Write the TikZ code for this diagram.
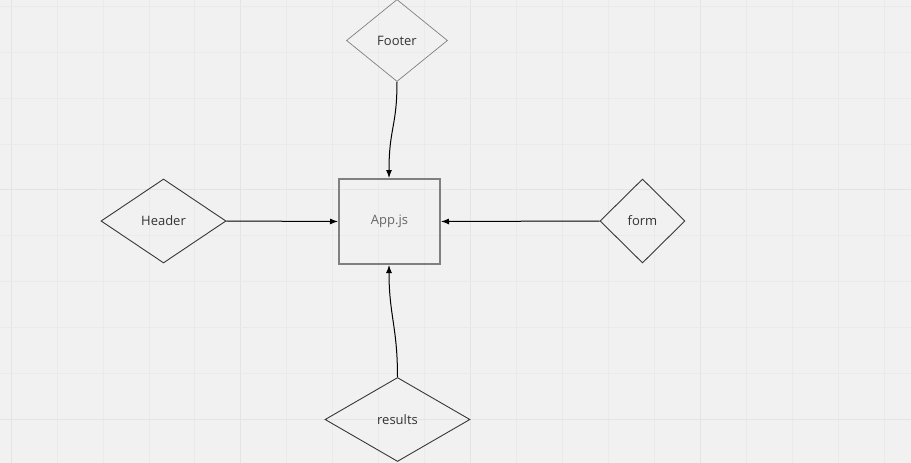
\documentclass[tikz,border=0pt]{standalone}
\usepackage{fontspec}
\setmainfont{Open Sans}
\usetikzlibrary{shapes.geometric,arrows.meta}
\definecolor{bg}{HTML}{F1F1F1}
\definecolor{gridminor}{HTML}{EAEAEA}
\definecolor{gridmajor}{HTML}{E4E4E4}
\tikzset{
  dia/.style={diamond, draw=black!78, line width=0.9pt, inner sep=0pt, aspect=1, font=\fontsize{13}{15}\selectfont, text=black!80},
  box/.style={rectangle, draw=black!50, line width=2pt, inner sep=0pt, font=\fontsize{13}{15}\selectfont, text=black!60},
  conn/.style={draw=black, line width=1pt, -{Latex[length=8pt,width=6pt]}}
}
\begin{document}
\begin{tikzpicture}[x=1pt,y=-1pt]
\fill[bg] (0,0) rectangle (911,463);
\useasboundingbox (0,0) rectangle (911,463);
% grid
\foreach \k in {0,...,19} {
  \pgfmathsetmacro{\xx}{11+45.95*\k}
  \pgfmathtruncatemacro{\m}{mod(\k,5)}
  \ifnum\m=0
    \draw[gridmajor, line width=1pt] (\xx,0) -- (\xx,463);
  \else
    \draw[gridminor, line width=0.7pt] (\xx,0) -- (\xx,463);
  \fi
}
\foreach \k in {0,...,10} {
  \pgfmathsetmacro{\yy}{6.5+45.86*\k}
  \pgfmathtruncatemacro{\m}{mod(\k,5)}
  \ifnum\m=4
    \draw[gridmajor, line width=1pt] (0,\yy) -- (911,\yy);
  \else
    \draw[gridminor, line width=0.7pt] (0,\yy) -- (911,\yy);
  \fi
}
% nodes
\node[dia, draw=black!50, line width=0.7pt, minimum width=101pt, minimum height=82pt] (footer) at (397,40.5) {Footer};
\node[box, minimum width=101pt, minimum height=85pt] (app) at (389.5,221.5) {App.js};
\node[dia, minimum width=125pt, minimum height=84pt] (header) at (163.5,221) {Header};
\node[dia, minimum width=85pt, minimum height=84pt] (form) at (642.5,221) {form};
\node[dia, minimum width=145pt, minimum height=84pt] (results) at (397.5,419.5) {results};
% connectors
\draw[conn] (footer.south) .. controls +(0,45) and +(0,-50) .. ([xshift=-0.5pt]app.north);
\draw[conn] (header.east) -- (app.west);
\draw[conn] (form.west) -- (app.east);
\draw[conn] (results.north) .. controls +(0,-50) and +(0,50) .. ([xshift=-0.5pt]app.south);
\end{tikzpicture}
\end{document}
